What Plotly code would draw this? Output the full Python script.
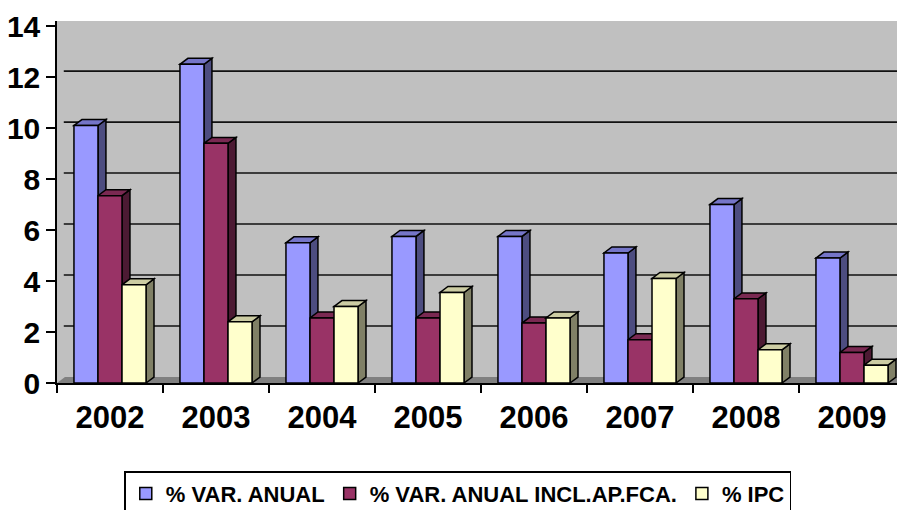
import plotly.graph_objects as go

years = ["2002", "2003", "2004", "2005", "2006", "2007", "2008", "2009"]
var_anual = [10.1, 12.5, 5.5, 5.75, 5.75, 5.1, 7.0, 4.9]
var_anual_incl = [7.35, 9.4, 2.55, 2.55, 2.35, 1.7, 3.3, 1.2]
ipc = [3.85, 2.4, 3.0, 3.55, 2.55, 4.1, 1.3, 0.7]
series_names = ["% VAR. ANUAL", "% VAR. ANUAL INCL.AP.FCA.", "% IPC"]
y_ticks = [0, 2, 4, 6, 8, 10, 12, 14]

front_colors = ["#9999FF", "#993366", "#FFFFCC"]
side_colors = ["#4D4D80", "#4C1A33", "#808066"]
top_colors = ["#7575C8", "#7A2952", "#CCCCA3"]

FONT = "Liberation Sans, Arial, sans-serif"
BARGAP = 0.32
YMAX = 14.2
DX = 0.075   # depth offset in category units
DY = 0.235   # depth offset in value units

fig = go.Figure()
all_series = [var_anual, var_anual_incl, ipc]
for name, vals, col in zip(series_names, all_series, front_colors):
    fig.add_trace(go.Bar(
        x=years, y=vals, name=name,
        marker=dict(color=col, line=dict(color="black", width=1.5)),
    ))

shapes = []
# floor strip
shapes.append(dict(
    type="path", xref="x", yref="y", layer="below",
    path=f"M{-0.5},0 L{7.5},0 L{7.5 + DX},{DY} L{-0.5 + DX},{DY} Z",
    fillcolor="#808080", line=dict(width=0),
))
# back-wall gridlines (offset by depth)
for t in y_ticks[1:]:
    shapes.append(dict(
        type="line", xref="paper", yref="y", layer="below",
        x0=0.008, x1=1, y0=t + DY, y1=t + DY,
        line=dict(color="#111111", width=1.6),
    ))

w = (1 - BARGAP) / 3
for si, vals in enumerate(all_series):
    for ci, v in enumerate(vals):
        xc = ci + (si - 1) * w
        x0, x1 = xc - w / 2, xc + w / 2
        # side face
        shapes.append(dict(
            type="path", xref="x", yref="y", layer="between",
            path=f"M{x1},0 L{x1},{v} L{x1 + DX},{v + DY} L{x1 + DX},{DY} Z",
            fillcolor=side_colors[si], line=dict(color="black", width=1.5),
        ))
        # top face
        shapes.append(dict(
            type="path", xref="x", yref="y", layer="between",
            path=f"M{x0},{v} L{x1},{v} L{x1 + DX},{v + DY} L{x0 + DX},{v + DY} Z",
            fillcolor=top_colors[si], line=dict(color="black", width=1.5),
        ))

fig.update_layout(
    width=905, height=510,
    margin=dict(l=49, r=8, t=13, b=135, autoexpand=False),
    paper_bgcolor="white",
    plot_bgcolor="#C0C0C0",
    barmode="group", bargap=BARGAP, bargroupgap=0,
    font=dict(family=FONT, color="black", weight="bold"),
    shapes=shapes,
    showlegend=True,
    legend=dict(
        orientation="h", xref="container", yref="container",
        x=0.497, xanchor="center", y=0.092, yanchor="top",
        bordercolor="black", borderwidth=1.5, bgcolor="white",
        font=dict(family=FONT, size=22, color="black", weight="bold"),
        traceorder="normal", itemwidth=30,
    ),
    xaxis=dict(
        type="category", tickson="boundaries", ticks="outside", ticklen=8,
        tickcolor="black", tickwidth=1.5, showline=True, linecolor="black",
        linewidth=1.5, showgrid=False, ticklabelstandoff=6, automargin=False,
        tickfont=dict(family=FONT, size=31, color="black", weight="bold"),
        range=[-0.5, 7.5],
    ),
    yaxis=dict(
        range=[0, YMAX], tickvals=y_ticks, ticks="outside", ticklen=9,
        tickcolor="black", tickwidth=1.5, showline=True, linecolor="black",
        linewidth=1.5, showgrid=False, zeroline=False, automargin=False,
        tickfont=dict(family=FONT, size=30, color="black", weight="bold"),
    ),
)

fig.write_html("out.html")
